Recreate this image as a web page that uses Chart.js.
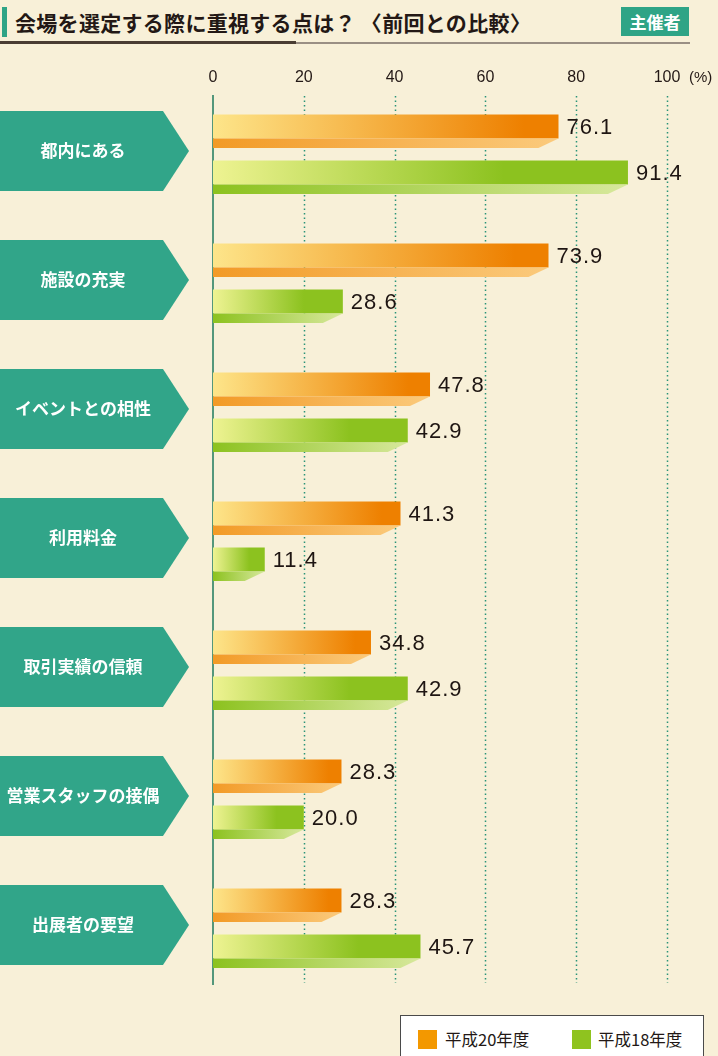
<!DOCTYPE html>
<html lang="ja">
<head>
<meta charset="utf-8">
<script src="https://cdn.jsdelivr.net/npm/chart.js@4/dist/chart.umd.min.js"></script>
<style>
  html, body { margin: 0; padding: 0; background: #f8f0d8; }
  body { width: 718px; height: 1056px; position: relative; overflow: hidden;
         font-family: "Noto Sans CJK JP", "Noto Sans", sans-serif; }
  #wrap { position: absolute; left: 0; top: 0; width: 718px; height: 1056px; }
  .title { position: absolute; left: 2px; top: 7px; height: 30px; padding-left: 8px;
           border-left: 5px solid #2fa486; font-size: 21px; font-weight: bold;
           color: #231815; line-height: 30px; letter-spacing: 0.3px; }
  .rule1 { position: absolute; left: 0; top: 41px; width: 296px; height: 3px; background: #4a3d33; }
  .rule2 { position: absolute; left: 296px; top: 42px; width: 394px; height: 2px; background: #9a8f84; }
  .badge { position: absolute; left: 621px; top: 7px; width: 68px; height: 29px;
           background: #2fa486; color: #fff; font-size: 17px; font-weight: bold;
           text-align: center; line-height: 29px; }
  .legend { position: absolute; left: 400px; top: 1015px; width: 302px; height: 60px;
            background: #fff; border: 1px solid #4a4a4a; }
  .legend span { position: absolute; top: 12px; font-size: 16.5px; color: #231815; line-height: 22px; }
  .legend i { position: absolute; top: 14px; width: 19px; height: 19px; }
</style>
</head>
<body>
<div class="title">会場を選定する際に重視する点は？ 〈前回との比較〉</div>
<div class="rule1"></div><div class="rule2"></div>
<div class="badge">主催者</div>
<div id="wrap"><canvas id="chart" width="718" height="1056"></canvas></div>
<div class="legend">
  <i style="left:17px;background:#f39800"></i><span style="left:44px">平成20年度</span>
  <i style="left:171px;background:#8fc31f"></i><span style="left:197px">平成18年度</span>
</div>
<script>
const categories = ['都内にある', '施設の充実', 'イベントとの相性', '利用料金', '取引実績の信頼', '営業スタッフの接偶', '出展者の要望']
const h20Values = [76.1, 73.9, 47.8, 41.3, 34.8, 28.3, 28.3]
const h18Values = [91.4, 28.6, 42.9, 11.4, 42.9, 20.0, 45.7]
const seriesNames = ['平成20年度', '平成18年度']
const xTicks = [0, 20, 40, 60, 80, 100]

const palettes = [
  { barFrom: '#fde58a', barTo: '#ee8000', stripFrom: '#f29a26', stripTo: '#fbca7c' },
  { barFrom: '#eef392', barTo: '#8cc21f', stripFrom: '#8cc21f', stripTo: '#d7e89c' }
]

function barGradient(context) {
  const chart = context.chart
  const area = chart.chartArea
  if (!area || context.parsed == null) return palettes[context.datasetIndex].barTo
  const p = palettes[context.datasetIndex]
  const end = chart.scales.x.getPixelForValue(context.parsed.x)
  const g = chart.ctx.createLinearGradient(area.left, 0, end, 0)
  g.addColorStop(0, p.barFrom)
  g.addColorStop(context.datasetIndex === 0 ? 0.9 : 0.7, p.barTo)
  g.addColorStop(1, p.barTo)
  return g
}

// background pieces: dotted grid, axis line, tick labels, arrow labels
const backdrop = {
  id: 'backdrop',
  beforeDatasetsDraw(chart) {
    const ctx = chart.ctx
    const x = chart.scales.x
    const y = chart.scales.y
    ctx.save()
    ctx.strokeStyle = '#2a9378'
    ctx.lineWidth = 1.5
    ctx.setLineDash([1.5, 3])
    xTicks.slice(1).forEach(t => {
      const px = Math.round(x.getPixelForValue(t)) + 0.5
      ctx.beginPath()
      ctx.moveTo(px, 96)
      ctx.lineTo(px, 983)
      ctx.stroke()
    })
    ctx.setLineDash([])
    ctx.strokeStyle = '#1e7a5c'
    ctx.lineWidth = 1.5
    const x0 = x.getPixelForValue(0)
    ctx.beginPath()
    ctx.moveTo(x0, 95)
    ctx.lineTo(x0, 985)
    ctx.stroke()

    ctx.fillStyle = '#231815'
    ctx.textAlign = 'center'
    ctx.textBaseline = 'middle'
    ctx.font = '16px "Liberation Sans", Arial, sans-serif'
    xTicks.forEach(t => {
      ctx.fillText(String(t), x.getPixelForValue(t), 78)
    })
    ctx.textAlign = 'left'
    ctx.font = '15px "Liberation Sans", Arial, sans-serif'
    ctx.fillText('(%)', x.getPixelForValue(100) + 22, 78)

    categories.forEach((c, i) => {
      const cy = y.getPixelForValue(i) + 1.5
      ctx.fillStyle = '#31a589'
      ctx.beginPath()
      ctx.moveTo(0, cy - 40)
      ctx.lineTo(163, cy - 40)
      ctx.lineTo(189, cy)
      ctx.lineTo(163, cy + 40)
      ctx.lineTo(0, cy + 40)
      ctx.closePath()
      ctx.fill()
      ctx.fillStyle = '#ffffff'
      ctx.textAlign = 'center'
      ctx.font = 'bold 17px "Noto Sans CJK JP", sans-serif'
      ctx.fillText(c, 83, cy)
    })
    ctx.restore()
  }
}

// the lower bevel strip under each bar and the value labels
const bevel = {
  id: 'bevel',
  afterDatasetsDraw(chart) {
    const ctx = chart.ctx
    const left = chart.chartArea.left
    ctx.save()
    chart.data.datasets.forEach((ds, di) => {
      const p = palettes[di]
      chart.getDatasetMeta(di).data.forEach((bar, i) => {
        const top = bar.y + bar.height / 2
        const end = bar.x
        const g = ctx.createLinearGradient(left, 0, end, 0)
        g.addColorStop(0, p.stripFrom)
        g.addColorStop(1, p.stripTo)
        ctx.fillStyle = g
        ctx.beginPath()
        ctx.moveTo(left, top)
        ctx.lineTo(end, top)
        ctx.lineTo(Math.max(left, end - 20), top + 9.5)
        ctx.lineTo(left, top + 9.5)
        ctx.closePath()
        ctx.fill()

        ctx.fillStyle = '#1e1512'
        ctx.font = '22px "Liberation Sans", Arial, sans-serif'
        ctx.letterSpacing = '1px'
        ctx.textAlign = 'left'
        ctx.textBaseline = 'middle'
        ctx.fillText(ds.data[i].toFixed(1), end + 8, bar.y + 1)
      })
    })
    ctx.restore()
  }
}

new Chart(document.getElementById('chart'), {
  type: 'bar',
  data: {
    labels: categories,
    datasets: [
      { label: seriesNames[0], data: h20Values, backgroundColor: barGradient },
      { label: seriesNames[1], data: h18Values, backgroundColor: barGradient }
    ]
  },
  options: {
    indexAxis: 'y',
    responsive: false,
    animation: false,
    categoryPercentage: 92 / 129,
    barPercentage: 24 / 46,
    layout: { padding: { left: 213, right: 51, top: 85, bottom: 68 } },
    scales: {
      x: { display: false, min: 0, max: 100 },
      y: { display: false, offset: true }
    },
    plugins: {
      legend: { display: false },
      tooltip: { enabled: false }
    }
  },
  plugins: [backdrop, bevel]
})
</script>
</body>
</html>
